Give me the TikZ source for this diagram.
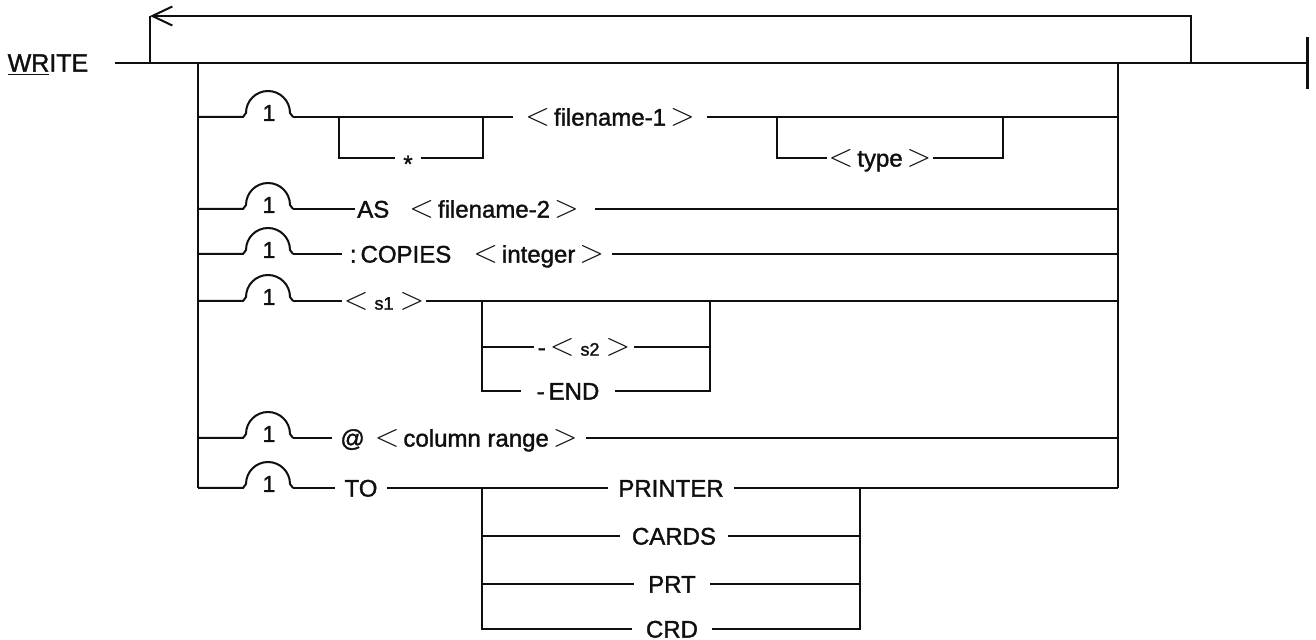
\documentclass[tikz,border=0pt]{standalone}
\usepackage{fontspec}
\setmainfont{Liberation Sans}[FakeBold=1.4]
\usetikzlibrary{arrows.meta}
\definecolor{RailInk}{gray}{0.06}
\newcommand{\lt}{\scalebox{1.35}{$<$}}
\newcommand{\gt}{\scalebox{1.35}{$>$}}
\tikzset{
    syn/diagram/.style={
        x=0.5pt, y=-0.5pt,
        font=\fontsize{12}{14}\selectfont,
        color=RailInk,
        line width=1pt,
        line join=miter,
        every node/.style={inner ysep=0pt, outer sep=0pt}
    },
    syn/rail/.style={draw=RailInk, line width=1pt},
    syn/loop/.style={
        draw=RailInk, line width=1pt,
        -{Straight Barb[length=10pt, width=9.5pt, line width=1pt]}
    },
    syn/stop/.style={draw=RailInk, line width=1.5pt},
    syn/word/.style={text height=8.6pt, text depth=0pt, inner xsep=4pt},
    syn/count/.style={inner sep=0pt, font=\fontsize{11.5}{12}\selectfont}
}

\begin{document}
\begin{tikzpicture}[syn/diagram]
    \useasboundingbox (0,0) rectangle (1316,640);
    % entry, loop back and end of the statement
    \node[syn/word, font=\fontsize{12.5}{14}\selectfont] (write) at (48,63) {\underline{WR}ITE};
    \coordinate (mainL) at (115,63);
    \coordinate (fin) at (1307,63);
    \coordinate (loopL) at (150,63);
    \coordinate (loopR) at (1191,63);
    \coordinate (loopT) at (150,16);
    \draw[syn/rail] (mainL) -- (fin);
    \draw[syn/stop] ([yshift=13pt]fin) -- ([yshift=-13pt]fin);
    \draw[syn/loop] (loopR) |- (loopT);
    \draw[syn/rail] (loopT) -- (loopL);
    \coordinate (bl) at (198,63);
    \coordinate (br) at (1118,63);
    \draw[syn/rail] (bl) -- (198,488);
    \draw[syn/rail] (br) -- (1118,488);
    % one rail per option, each entered through the "1" bump
    \foreach \r/\y in {r1/117, r2/209, r3/254, r4/301, r5/438, r6/488} {
        \coordinate (\r-l) at (198,\y);
        \coordinate (\r-r) at (1118,\y);
        \draw[syn/rail] (\r-l) -- ++(45,0) -- ++(3,-4)
            arc[start angle=180, end angle=360, radius=22] -- ++(3,4)
            coordinate (\r-b);
        \node[syn/count] (\r-one) at (269,\y-4) {1};
    }

    % filename-1 with optional * and <type>
    \node[syn/word, inner xsep=6pt] (fn1) at (610,117) {\lt\,filename-1\,\gt};
    \draw[syn/rail] (r1-b) -- (fn1.west);
    \draw[syn/rail] (fn1.east) -- (r1-r);
    \coordinate (starL) at (339,117);
    \coordinate (starR) at (483,117);
    \node[syn/word] (star) at (408,158) {\raisebox{-2.8pt}{*}};
    \draw[syn/rail] (starL) |- (star.west);
    \draw[syn/rail] (star.east) -| (starR);
    \coordinate (typeL) at (777,117);
    \coordinate (typeR) at (1003,117);
    \node[syn/word, inner xsep=1pt] (type) at (880,158) {\lt\,type\,\gt};
    \draw[syn/rail] (typeL) |- (type.west);
    \draw[syn/rail] (type.east) -| (typeR);

    % AS and COPIES
    \node[syn/word, inner xsep=1pt] (as) at (468,209) {AS\hspace{10pt}\lt\,filename-2\,\gt};
    \draw[syn/rail] (r2-b) -- (as.west);
    \draw[syn/rail] ([xshift=7pt]as.east) -- (r2-r);
    \node[syn/word, inner xsep=4pt] (copies) at (477,254) {:\,COPIES\hspace{11pt}\lt\,integer\,\gt};
    \draw[syn/rail] (r3-b) -- (copies.west);
    \draw[syn/rail] (copies.east) -- (r3-r);

    % s1 with optional -<s2> or -END
    \node[syn/word, inner xsep=1pt] (s1) at (384,301) {\lt\hspace{3pt}{\small s1}\hspace{3pt}\gt};
    \draw[syn/rail] (r4-b) -- (s1.west);
    \draw[syn/rail] (s1.east) -- (r4-r);
    \coordinate (sbL) at (482,301);
    \coordinate (sbR) at (710,301);
    \node[syn/word, inner xsep=2pt] (s2) at (584,347) {-\,\lt\hspace{3pt}{\small s2}\hspace{3pt}\gt};
    \node[syn/word, inner xsep=8pt] (endw) at (568,391) {-\,END};
    \draw[syn/rail] (sbL) |- (endw.west);
    \draw[syn/rail] (endw.east) -| (sbR);
    \draw[syn/rail] (sbL |- s2) -- (s2.west);
    \draw[syn/rail] (s2.east) -- (sbR |- s2);

    % column range
    \node[syn/word] (col) at (459,438) {@\hspace{5pt}\lt\,column range\,\gt};
    \draw[syn/rail] (r5-b) -- (col.west);
    \draw[syn/rail] (col.east) -- (r5-r);

    % TO and the device names
    \node[syn/word, inner xsep=5pt] (to) at (361,488) {TO};
    \node[syn/word, inner xsep=5pt] (printer) at (671,488) {PRINTER};
    \draw[syn/rail] (r6-b) -- (to.west);
    \draw[syn/rail] (to.east) -- (printer.west);
    \draw[syn/rail] (printer.east) -- (r6-r);
    \coordinate (dvL) at (482,488);
    \coordinate (dvR) at (860,488);
    \node[syn/word, inner xsep=6pt] (cards) at (674,536) {CARDS};
    \node[syn/word, inner xsep=7pt] (prt) at (672,584) {PRT};
    \node[syn/word, inner xsep=7pt] (crd) at (672,629) {CRD};
    \draw[syn/rail] (dvL) |- (crd.west);
    \draw[syn/rail] (crd.east) -| (dvR);
    \foreach \d in {cards, prt} {
        \draw[syn/rail] (dvL |- \d) -- (\d.west);
        \draw[syn/rail] (\d.east) -- (dvR |- \d);
    }
\end{tikzpicture}
\end{document}
